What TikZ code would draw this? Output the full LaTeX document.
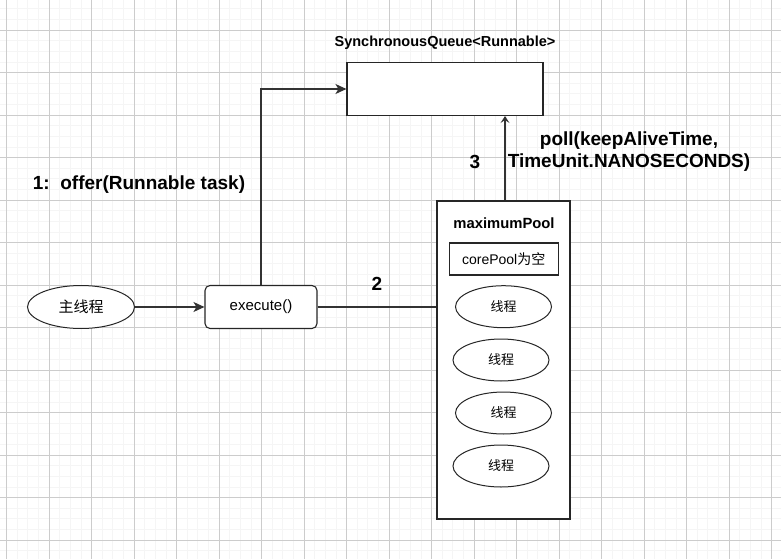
\documentclass[tikz,border=0pt]{standalone}
\usepackage{fontspec}
\setmainfont{Liberation Sans}
\newfontfamily\cjk{Noto Sans CJK SC}
\usetikzlibrary{shapes.geometric,arrows.meta}
\begin{document}
\begin{tikzpicture}[x=1pt,y=-1pt,
  box/.style={draw=black!85,line width=1.1pt,fill=white,inner sep=0pt},
  ell/.style={draw=black!85,line width=1pt,fill=white,ellipse,inner sep=0pt},
  conn/.style={draw=black!80,line width=1.3pt},
  arr/.style={conn,-{Stealth[length=11pt,width=10pt,inset=3pt]}},
  arrs/.style={conn,-{Stealth[length=7pt,width=9pt,inset=3pt]}},
  lbl/.style={font=\bfseries\fontsize{19}{22}\selectfont,inner sep=0pt,align=center},
  txt/.style={font=\fontsize{14.5}{17}\selectfont,inner sep=0pt}]
\useasboundingbox (0,0) rectangle (781,559);
\fill[white] (0,0) rectangle (781,559);
% minor grid
\foreach \i in {0,...,75} {
  \draw[black!4,line width=0.6pt] ({-36+\i*10.625},0) -- ({-36+\i*10.625},559);
}
\foreach \i in {0,...,55} {
  \draw[black!4,line width=0.6pt] (0,{-12.5+\i*10.625}) -- (781,{-12.5+\i*10.625});
}
% major grid
\foreach \i in {0,...,18} {
  \draw[black!20,line width=0.8pt] ({6.5+\i*42.5},0) -- ({6.5+\i*42.5},559);
}
\foreach \i in {0,...,13} {
  \draw[black!20,line width=0.8pt] (0,{-12.5+\i*42.5}) -- (781,{-12.5+\i*42.5});
}
% nodes
\node[box,minimum width=196pt,minimum height=53pt] (queue) at (445,89) {};
\node[font=\bfseries\fontsize{14.5}{17}\selectfont,inner sep=0pt] (qlabel) at (445,43) {SynchronousQueue<Runnable>};
\node[ell,minimum width=107pt,minimum height=43pt,font=\fontsize{15}{17}\selectfont] (main) at (81,307) {\cjk 主线程};
\node[box,rounded corners=5pt,minimum width=112pt,minimum height=43pt,font=\fontsize{15}{17}\selectfont] (exec) at (261,307) {execute()};
\node[box,minimum width=133pt,minimum height=318pt] (pool) at (503.5,360) {};
\node[font=\bfseries\fontsize{14.8}{17}\selectfont,inner sep=0pt] (ptitle) at (504,223) {maximumPool};
\node[box,minimum width=109pt,minimum height=32pt,font=\fontsize{14}{16}\selectfont] (core) at (503.7,259) {corePool{\cjk 为空}};
\node[ell,minimum width=96pt,minimum height=42pt,font=\fontsize{13}{15}\selectfont] (t1) at (503.5,306.7) {\cjk 线程};
\node[ell,minimum width=96pt,minimum height=42pt,font=\fontsize{13}{15}\selectfont] (t2) at (501,360) {\cjk 线程};
\node[ell,minimum width=96pt,minimum height=42pt,font=\fontsize{13}{15}\selectfont] (t3) at (503.5,413) {\cjk 线程};
\node[ell,minimum width=96pt,minimum height=42pt,font=\fontsize{13}{15}\selectfont] (t4) at (501,466) {\cjk 线程};
% labels
\node[lbl] (l1) at (139,185) {1:\ \ offer(Runnable task)};
\node[lbl] (l2) at (377,284) {2};
\node[lbl] (l3) at (475,162) {3};
\node[lbl] (lpoll) at (629,152) {poll(keepAliveTime,\\TimeUnit.NANOSECONDS)};
% connectors
\coordinate (bend) at (261,89);
\draw[arr] (exec.north) -- (bend) -- (queue.west);
\draw[arr] (main.east) -- (exec.west);
\draw[conn] (exec.east) -- (pool.west |- exec.east);
\draw[arrs] (pool.north -| 505,0) -- (queue.south -| 505,0);
\end{tikzpicture}
\end{document}
